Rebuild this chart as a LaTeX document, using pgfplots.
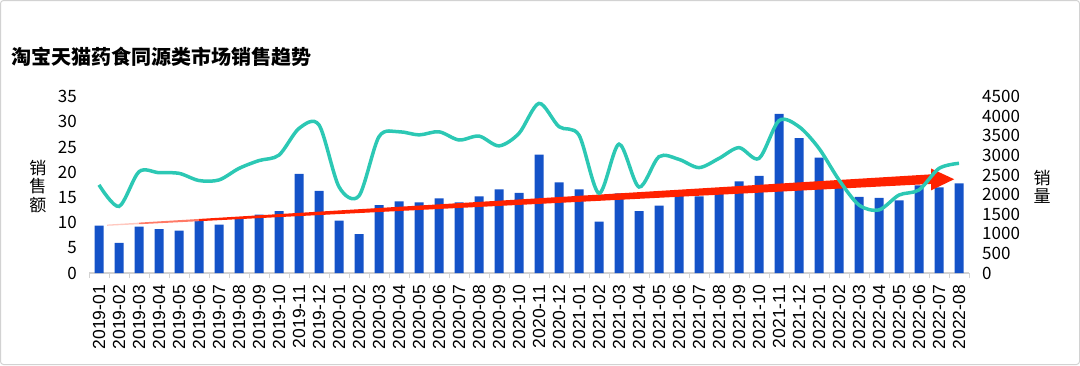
\documentclass[border=0pt]{standalone}
\usepackage{fontspec}
\setmainfont{Liberation Sans}
\newfontfamily\cjk{Noto Sans CJK SC}
\usepackage{pgfplots}
\pgfplotsset{compat=1.18}
\definecolor{barblue}{RGB}{20,82,200}
\definecolor{lineteal}{RGB}{44,200,180}
\definecolor{arrowred}{RGB}{255,34,0}

\begin{document}
\begin{tikzpicture}
\path[use as bounding box] (0,0) rectangle (1080pt,-365pt);
\draw[gray!35, line width=1pt, rounded corners=3pt] (0.5pt,-0.5pt) rectangle (1079.5pt,-364.5pt);
\node[anchor=west, inner sep=0pt, font=\cjk\bfseries\fontsize{20}{24}\selectfont] at (11pt,-57pt) {淘宝天猫药食同源类市场销售趋势};

\begin{axis}[
 at={(89pt,-273pt)}, anchor=south west,
 scale only axis, width=880pt, height=176.3pt,
 xmin=-0.5, xmax=43.5, ymin=0, ymax=35,
 axis x line*=bottom, axis y line*=left,
 y axis line style={draw=none},
 x axis line style={draw=gray!35, line width=1.2pt, -},
 ytick={0,5,...,35},
 xtick={0,...,43},
 xticklabels={2019-01,2019-02,2019-03,2019-04,2019-05,2019-06,2019-07,2019-08,2019-09,2019-10,2019-11,2019-12,
 2020-01,2020-02,2020-03,2020-04,2020-05,2020-06,2020-07,2020-08,2020-09,2020-10,2020-11,2020-12,
 2021-01,2021-02,2021-03,2021-04,2021-05,2021-06,2021-07,2021-08,2021-09,2021-10,2021-11,2021-12,
 2022-01,2022-02,2022-03,2022-04,2022-05,2022-06,2022-07,2022-08},
 major tick length=0pt,
 minor tick length=5pt,
 minor xtick={-0.5,0.5,...,43.5},
 xtick align=outside,
 minor x tick style={draw=gray!35, line width=1pt},
 xticklabel style={rotate=90, anchor=east, inner sep=0pt, font=\fontsize{17.5}{18}\selectfont},
 xticklabel shift=12pt,
 yticklabel style={inner sep=0pt, font=\cjk\fontsize{17}{18}\selectfont},
 yticklabel shift=12pt,
 /pgf/number format/assume math mode=true,
 ylabel={销\\售\\额},
 ylabel style={rotate=-90, align=center, anchor=center, at={(axis description cs:-0.058,0.493)}, font=\cjk\fontsize{17}{18.5}\selectfont},
]
\addplot[ybar, bar width=9pt, fill=barblue, draw=none] coordinates {
(0,9.4) (1,6.0) (2,9.2) (3,8.7) (4,8.4) (5,10.6) (6,9.6) (7,11.1) (8,11.6) (9,12.3) (10,19.7) (11,16.3)
(12,10.4) (13,7.7) (14,13.5) (15,14.2) (16,14.0) (17,14.8) (18,14.0) (19,15.2) (20,16.6) (21,15.9) (22,23.5) (23,18.0)
(24,16.6) (25,10.2) (26,15.8) (27,12.3) (28,13.4) (29,15.4) (30,15.2) (31,16.7) (32,18.2) (33,19.3) (34,31.6) (35,26.8)
(36,22.9) (37,17.0) (38,15.1) (39,14.9) (40,14.4) (41,17.4) (42,17.0) (43,17.8)
};
% trend arrow (fading start, widening body)
\addplot[fill=arrowred!25, draw=none, forget plot] coordinates {
(0.4,9.37) (2,9.684) (2,10.004) (0.4,9.61)
} -- cycle;
\addplot[fill=arrowred!60, draw=none, forget plot] coordinates {
(2,9.684) (5,10.29) (5,10.73) (2,10.004)
} -- cycle;
\addplot[fill=arrowred, draw=none, forget plot] coordinates {
(5,10.29) (41.6,17.683) (41.6,16.4) (42.76,18.62) (41.6,20.75) (41.6,19.587) (5,10.73)
} -- cycle;
\end{axis}

\begin{axis}[
 at={(89pt,-273pt)}, anchor=south west,
 scale only axis, width=880pt, height=176.3pt,
 xmin=-0.5, xmax=43.5, ymin=0, ymax=4500,
 axis x line=none, axis y line*=right,
 y axis line style={draw=none},
 xtick=\empty,
 ytick={0,500,...,4500},
 scaled y ticks=false,
 major tick length=0pt,
 yticklabel style={inner sep=0pt, anchor=west, font=\cjk\fontsize{17}{18}\selectfont, /pgf/number format/1000 sep={}},
 yticklabel shift=13pt,
 /pgf/number format/assume math mode=true,
 ylabel={销\\量},
 ylabel style={rotate=-90, align=center, anchor=center, at={(axis description cs:1.083,0.488)}, font=\cjk\fontsize{17}{18.5}\selectfont},
]
\addplot[lineteal, line width=3.5pt, smooth, no markers] coordinates {
(0,2250) (1,1700) (2,2585) (3,2560) (4,2545) (5,2360) (6,2375) (7,2670) (8,2870) (9,3010) (10,3690) (11,3780)
(12,2200) (13,1970) (14,3480) (15,3605) (16,3525) (17,3605) (18,3395) (19,3495) (20,3245) (21,3565) (22,4330) (23,3735)
(24,3520) (25,2035) (26,3290) (27,2195) (28,2970) (29,2900) (30,2690) (31,2925) (32,3200) (33,2925) (34,3890) (35,3735)
(36,3180) (37,2375) (38,1735) (39,1610) (40,1990) (41,2120) (42,2670) (43,2800)
};
\end{axis}
\end{tikzpicture}
\end{document}
